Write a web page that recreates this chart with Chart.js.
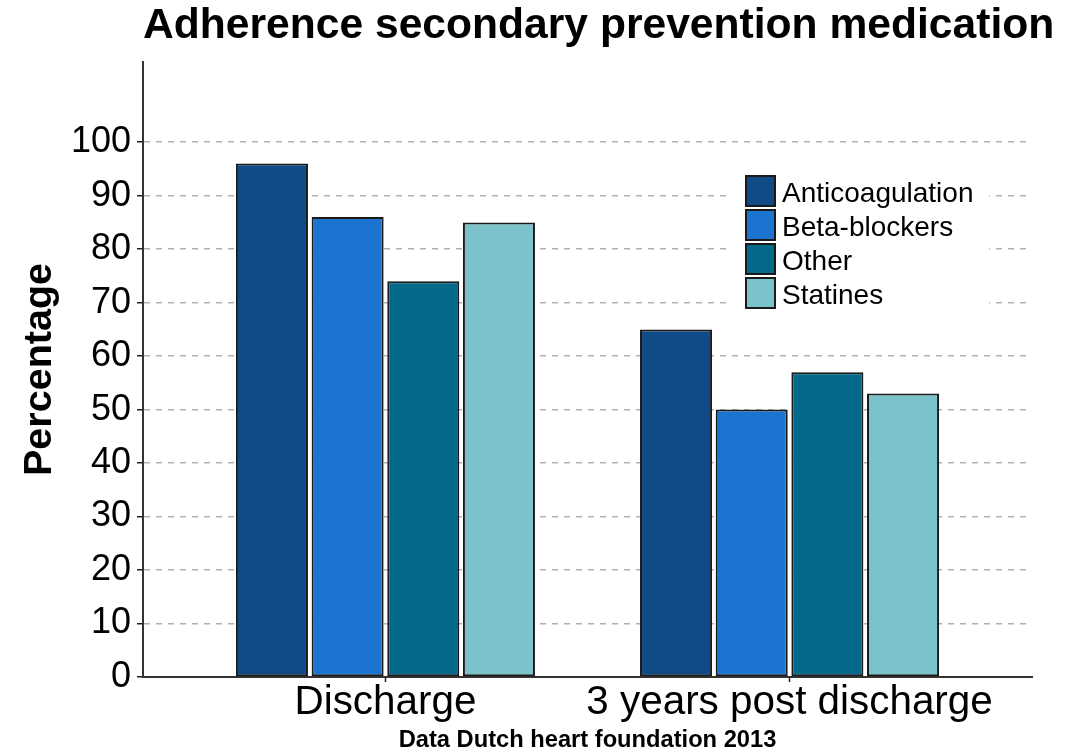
<!DOCTYPE html>
<html>
<head>
<meta charset="utf-8">
<title>Adherence secondary prevention medication</title>
<script src="https://cdn.jsdelivr.net/npm/chart.js@4/dist/chart.umd.min.js"></script>
<style>
  html, body { margin: 0; padding: 0; background: #ffffff; }
  #wrap { width: 1084px; height: 752px; }
</style>
</head>
<body>
<div id="wrap"><canvas id="chart" width="1084" height="752"></canvas></div>
<script>
// Measurement moments (x positions on the index axis) and their labels
const categories = ['Discharge', '3 years post discharge'];
const positions = [1, 2];

// Adherence per medication group, percent
const anticoagulation = [96, 65];
const betaBlockers = [86, 50];
const other = [74, 57];
const statines = [85, 53];

// Y-axis tick values
const yTicks = [0, 10, 20, 30, 40, 50, 60, 70, 80, 90, 100];

const FONT = "'Liberation Sans', Arial, sans-serif";

function series(label, values, color) {
  return {
    label: label,
    data: values.map((v, i) => ({ x: positions[i], y: v })),
    backgroundColor: color,
    borderColor: '#1a1a1a',
    borderWidth: 2,
    borderSkipped: false,
    categoryPercentage: 0.749,
    barPercentage: 0.952
  };
}

// Title drawn at the left edge of the plot panel
const headerPlugin = {
  id: 'headerText',
  afterDraw(chart) {
    const ctx = chart.ctx;
    ctx.save();
    ctx.fillStyle = '#000';
    ctx.font = "bold 42.6px " + FONT;
    ctx.textAlign = 'left';
    ctx.textBaseline = 'alphabetic';
    ctx.fillText('Adherence secondary prevention medication', chart.chartArea.left, 38);
    ctx.restore();
  }
};

// Stacked legend boxes inside the plot, on a white patch
const boxLegendPlugin = {
  id: 'boxLegend',
  afterDatasetsDraw(chart) {
    const ctx = chart.ctx;
    const area = chart.chartArea;
    const x0 = area.left + 602;
    const y0 = area.top + 113;
    const box = 31, pitch = 34;
    ctx.save();
    ctx.fillStyle = '#ffffff';
    ctx.fillRect(x0 - 18, y0 - 10, 262, 153);
    chart.data.datasets.forEach((ds, i) => {
      const y = y0 + i * pitch;
      ctx.fillStyle = ds.backgroundColor;
      ctx.fillRect(x0, y, box, box + 1);
      ctx.lineWidth = 2;
      ctx.strokeStyle = '#1a1a1a';
      ctx.strokeRect(x0 + 1, y + 1, box - 2, box - 1);
      ctx.fillStyle = '#000';
      ctx.font = "28px " + FONT;
      ctx.textAlign = 'left';
      ctx.textBaseline = 'alphabetic';
      ctx.fillText(ds.label, x0 + 37, y + 27);
    });
    ctx.restore();
  }
};

new Chart(document.getElementById('chart'), {
  type: 'bar',
  data: {
    datasets: [
      series('Anticoagulation', anticoagulation, '#114b87'),
      series('Beta-blockers', betaBlockers, '#1b74cf'),
      series('Other', other, '#02698a'),
      series('Statines', statines, '#7ac3cb')
    ]
  },
  plugins: [headerPlugin, boxLegendPlugin],
  options: {
    responsive: false,
    animation: false,
    devicePixelRatio: 1,
    layout: { padding: { top: 62, right: 52, left: 0, bottom: 0 } },
    plugins: {
      legend: { display: false },
      title: { display: false },
      tooltip: { enabled: false }
    },
    scales: {
      x: {
        type: 'linear',
        min: 0.4,
        max: 2.6,
        offset: false,
        afterBuildTicks(scale) {
          scale.ticks = positions.map(v => ({ value: v }));
        },
        afterFit(scale) { scale.height = 75; },
        ticks: {
          autoSkip: false,
          minRotation: 0,
          maxRotation: 0,
          padding: 1,
          color: '#000',
          font: { family: FONT, size: 40.4, lineHeight: 1 },
          callback: (value) => categories[positions.indexOf(value)]
        },
        grid: {
          offset: false,
          drawOnChartArea: false,
          drawTicks: true,
          tickLength: 5,
          tickColor: '#222',
          tickWidth: 1.5
        },
        border: { display: true, color: '#333', width: 2 },
        title: {
          display: true,
          text: 'Data Dutch heart foundation 2013',
          color: '#000',
          font: { family: FONT, size: 23.7, weight: 'bold', lineHeight: 1 },
          padding: { top: 3, bottom: 0 }
        }
      },
      y: {
        type: 'linear',
        min: 0,
        max: 115,
        afterBuildTicks(scale) {
          scale.ticks = yTicks.map(v => ({ value: v }));
        },
        afterFit(scale) { scale.width = 143; },
        ticks: {
          padding: 6,
          color: '#000',
          font: { family: FONT, size: 36, lineHeight: 1 }
        },
        grid: {
          color: '#b0b0b0',
          lineWidth: 1.5,
          drawTicks: true,
          tickLength: 6,
          tickColor: '#222',
          tickWidth: 1.5,
          tickBorderDash: []
        },
        border: { display: true, color: '#333', width: 2, dash: [6, 6] },
        title: {
          display: true,
          text: 'Percentage',
          color: '#000',
          font: { family: FONT, size: 39.5, weight: 'bold', lineHeight: 1 },
          padding: { top: 20, bottom: 0 }
        }
      }
    }
  }
});
</script>
</body>
</html>
